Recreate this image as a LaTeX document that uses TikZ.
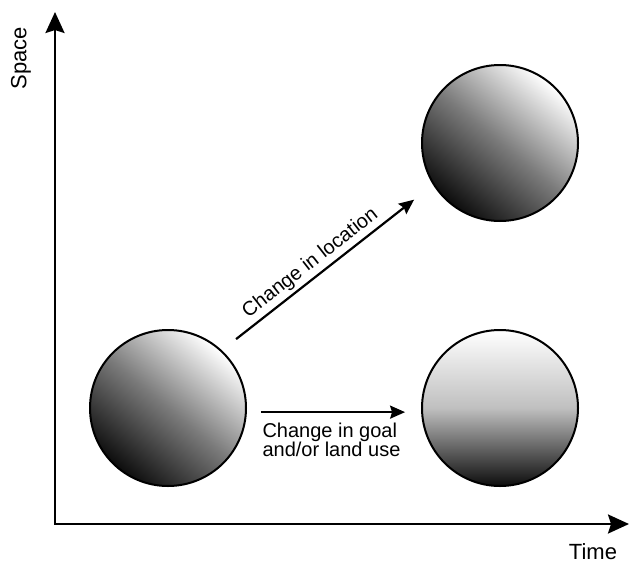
\documentclass[tikz,border=0pt]{standalone}
\usepackage{fontspec}
\setmainfont{Liberation Sans}
\usetikzlibrary{arrows.meta}
\tikzset{
  site/.style={circle,draw=black,line width=2pt,minimum size=156pt,inner sep=0pt,shading=axis},
  tilted/.style={top color=white,bottom color=black!95,middle color=black!52,shading angle=-40},
  upright/.style={top color=white,bottom color=black!95,middle color=black!25},
  axis/.style={line width=2.6pt,{Stealth[length=21pt,width=19pt,inset=3pt]}-{Stealth[length=21pt,width=19pt,inset=3pt]}},
  move/.style={line width=2.2pt,-{Stealth[length=15pt,width=13pt,inset=2pt]}},
  lbl/.style={font=\fontsize{20}{18}\selectfont},
  axlbl/.style={font=\fontsize{22}{22}\selectfont,inner sep=1pt}
}
\begin{document}
\begin{tikzpicture}[x=1pt,y=-1pt]
\useasboundingbox(0,0)rectangle(629,562);
\coordinate(origin)at(55,524);
\coordinate(spacetip)at(55,12);
\coordinate(timetip)at(629,524);
\draw[axis](spacetip)--(origin)--(timetip);
\node[axlbl,rotate=90](spacelbl)at(21,58){Space};
\node[axlbl,anchor=base](timelbl)at(593,559){Time};
\node[site,tilted](here)at(168,408){};
\node[site,tilted](there)at(500,143){};
\node[site,upright](changed)at(500,408){};
\draw[move,shorten <=18pt,shorten >=24pt](here.47)--(there.212)
  node[lbl,sloped,above,pos=0.46](movelbl){Change in location};
\draw[move,shorten <=14pt,shorten >=16pt](here.-3)--(changed.183);
\node[lbl,align=left,anchor=north west](uselbl)at(259,419){Change in goal\\and/or land use};
\end{tikzpicture}
\end{document}
